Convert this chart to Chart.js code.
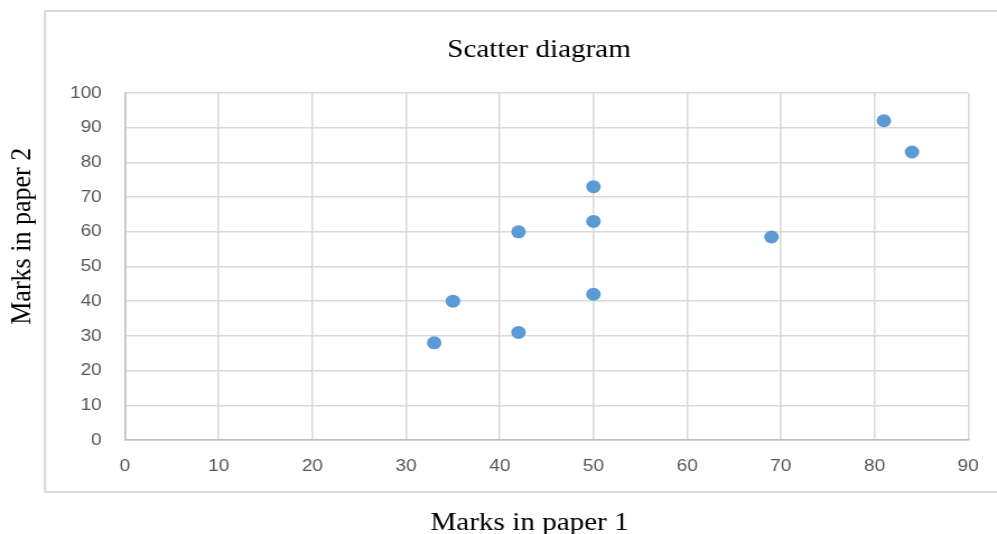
<!DOCTYPE html>
<html>
<head>
<meta charset="utf-8">
<title>Scatter diagram</title>
<script src="https://cdn.jsdelivr.net/npm/chart.js@4/dist/chart.umd.min.js"></script>
<style>
  html, body { margin: 0; padding: 0; background: #ffffff; overflow: hidden; }
  #wrap { position: absolute; left: 0; top: 0; width: 890px; height: 534px;
          transform: scaleX(1.1202); transform-origin: 0 0; }
  #c { display: block; }
</style>
</head>
<body>
<div id="wrap"><canvas id="c" width="890" height="534"></canvas></div>
<script>
// Marks obtained by each student in the two papers
const paper1Marks = [33, 35, 42, 42, 50, 50, 50, 69, 81, 84];
const paper2Marks = [28, 40, 31, 60, 42, 63, 73, 58.5, 92, 83];

// Tick values for each axis
const xTickValues = [0, 10, 20, 30, 40, 50, 60, 70, 80, 90];
const yTickValues = [0, 10, 20, 30, 40, 50, 60, 70, 80, 90, 100];

// Text
const chartTitle = 'Scatter diagram';
const xAxisTitle = 'Marks in paper 1';
const yAxisTitle = 'Marks in paper 2';

const points = paper1Marks.map((x, i) => ({ x: x, y: paper2Marks[i] }));

const serif = '"Liberation Serif", "Times New Roman", serif';
const sans = '"Liberation Sans", Arial, sans-serif';

// Draws the chart frame and the title texts around the plot
const frameAndTitles = {
  id: 'frameAndTitles',
  beforeDraw(chart) {
    const ctx = chart.ctx;
    ctx.save();
    ctx.fillStyle = '#ffffff';
    ctx.fillRect(0, 0, chart.width, chart.height);
    ctx.strokeStyle = '#d9d9d9';
    ctx.lineWidth = 2;
    ctx.strokeRect(40.2, 11, 900, 481);
    ctx.restore();
  },
  afterDraw(chart) {
    const ctx = chart.ctx;
    ctx.save();
    ctx.fillStyle = '#000000';
    ctx.font = '26px ' + serif;
    ctx.textBaseline = 'alphabetic';
    ctx.textAlign = 'center';
    ctx.fillText(chartTitle, 481.2, 57);
    ctx.fillText(xAxisTitle, 472.7, 529.5);
    ctx.translate(27.4, 236.3);
    ctx.rotate(-Math.PI / 2);
    ctx.fillText(yAxisTitle, 0, 0);
    ctx.restore();
  }
};

new Chart(document.getElementById('c'), {
  type: 'scatter',
  data: {
    datasets: [{
      label: 'Marks',
      data: points,
      backgroundColor: '#5b9bd5',
      borderColor: '#5b9bd5',
      borderWidth: 0,
      pointRadius: 6.5,
      pointHoverRadius: 6.5
    }]
  },
  options: {
    responsive: false,
    animation: false,
    devicePixelRatio: 1,
    layout: { padding: { left: 51.6, top: 93, right: 25.7, bottom: 0 } },
    plugins: {
      legend: { display: false },
      tooltip: { enabled: false },
      title: { display: false }
    },
    scales: {
      x: {
        type: 'linear',
        min: xTickValues[0],
        max: xTickValues[xTickValues.length - 1],
        afterBuildTicks: (scale) => { scale.ticks = xTickValues.map(v => ({ value: v })); },
        afterFit: (scale) => { scale.height = 94; },
        grid: { color: '#d9d9d9', lineWidth: 1.5, drawTicks: false },
        border: { color: '#bfbfbf', width: 1.5 },
        ticks: { padding: 16, color: '#595959', font: { family: sans, size: 17 } }
      },
      y: {
        type: 'linear',
        min: yTickValues[0],
        max: yTickValues[yTickValues.length - 1],
        afterBuildTicks: (scale) => { scale.ticks = yTickValues.map(v => ({ value: v })); },
        afterFit: (scale) => { scale.width = 60; },
        grid: { color: '#d9d9d9', lineWidth: 1.5, drawTicks: false },
        border: { color: '#bfbfbf', width: 1.5 },
        ticks: { padding: 20.8, color: '#595959', font: { family: sans, size: 17 } }
      }
    }
  },
  plugins: [frameAndTitles]
});
</script>
</body>
</html>
